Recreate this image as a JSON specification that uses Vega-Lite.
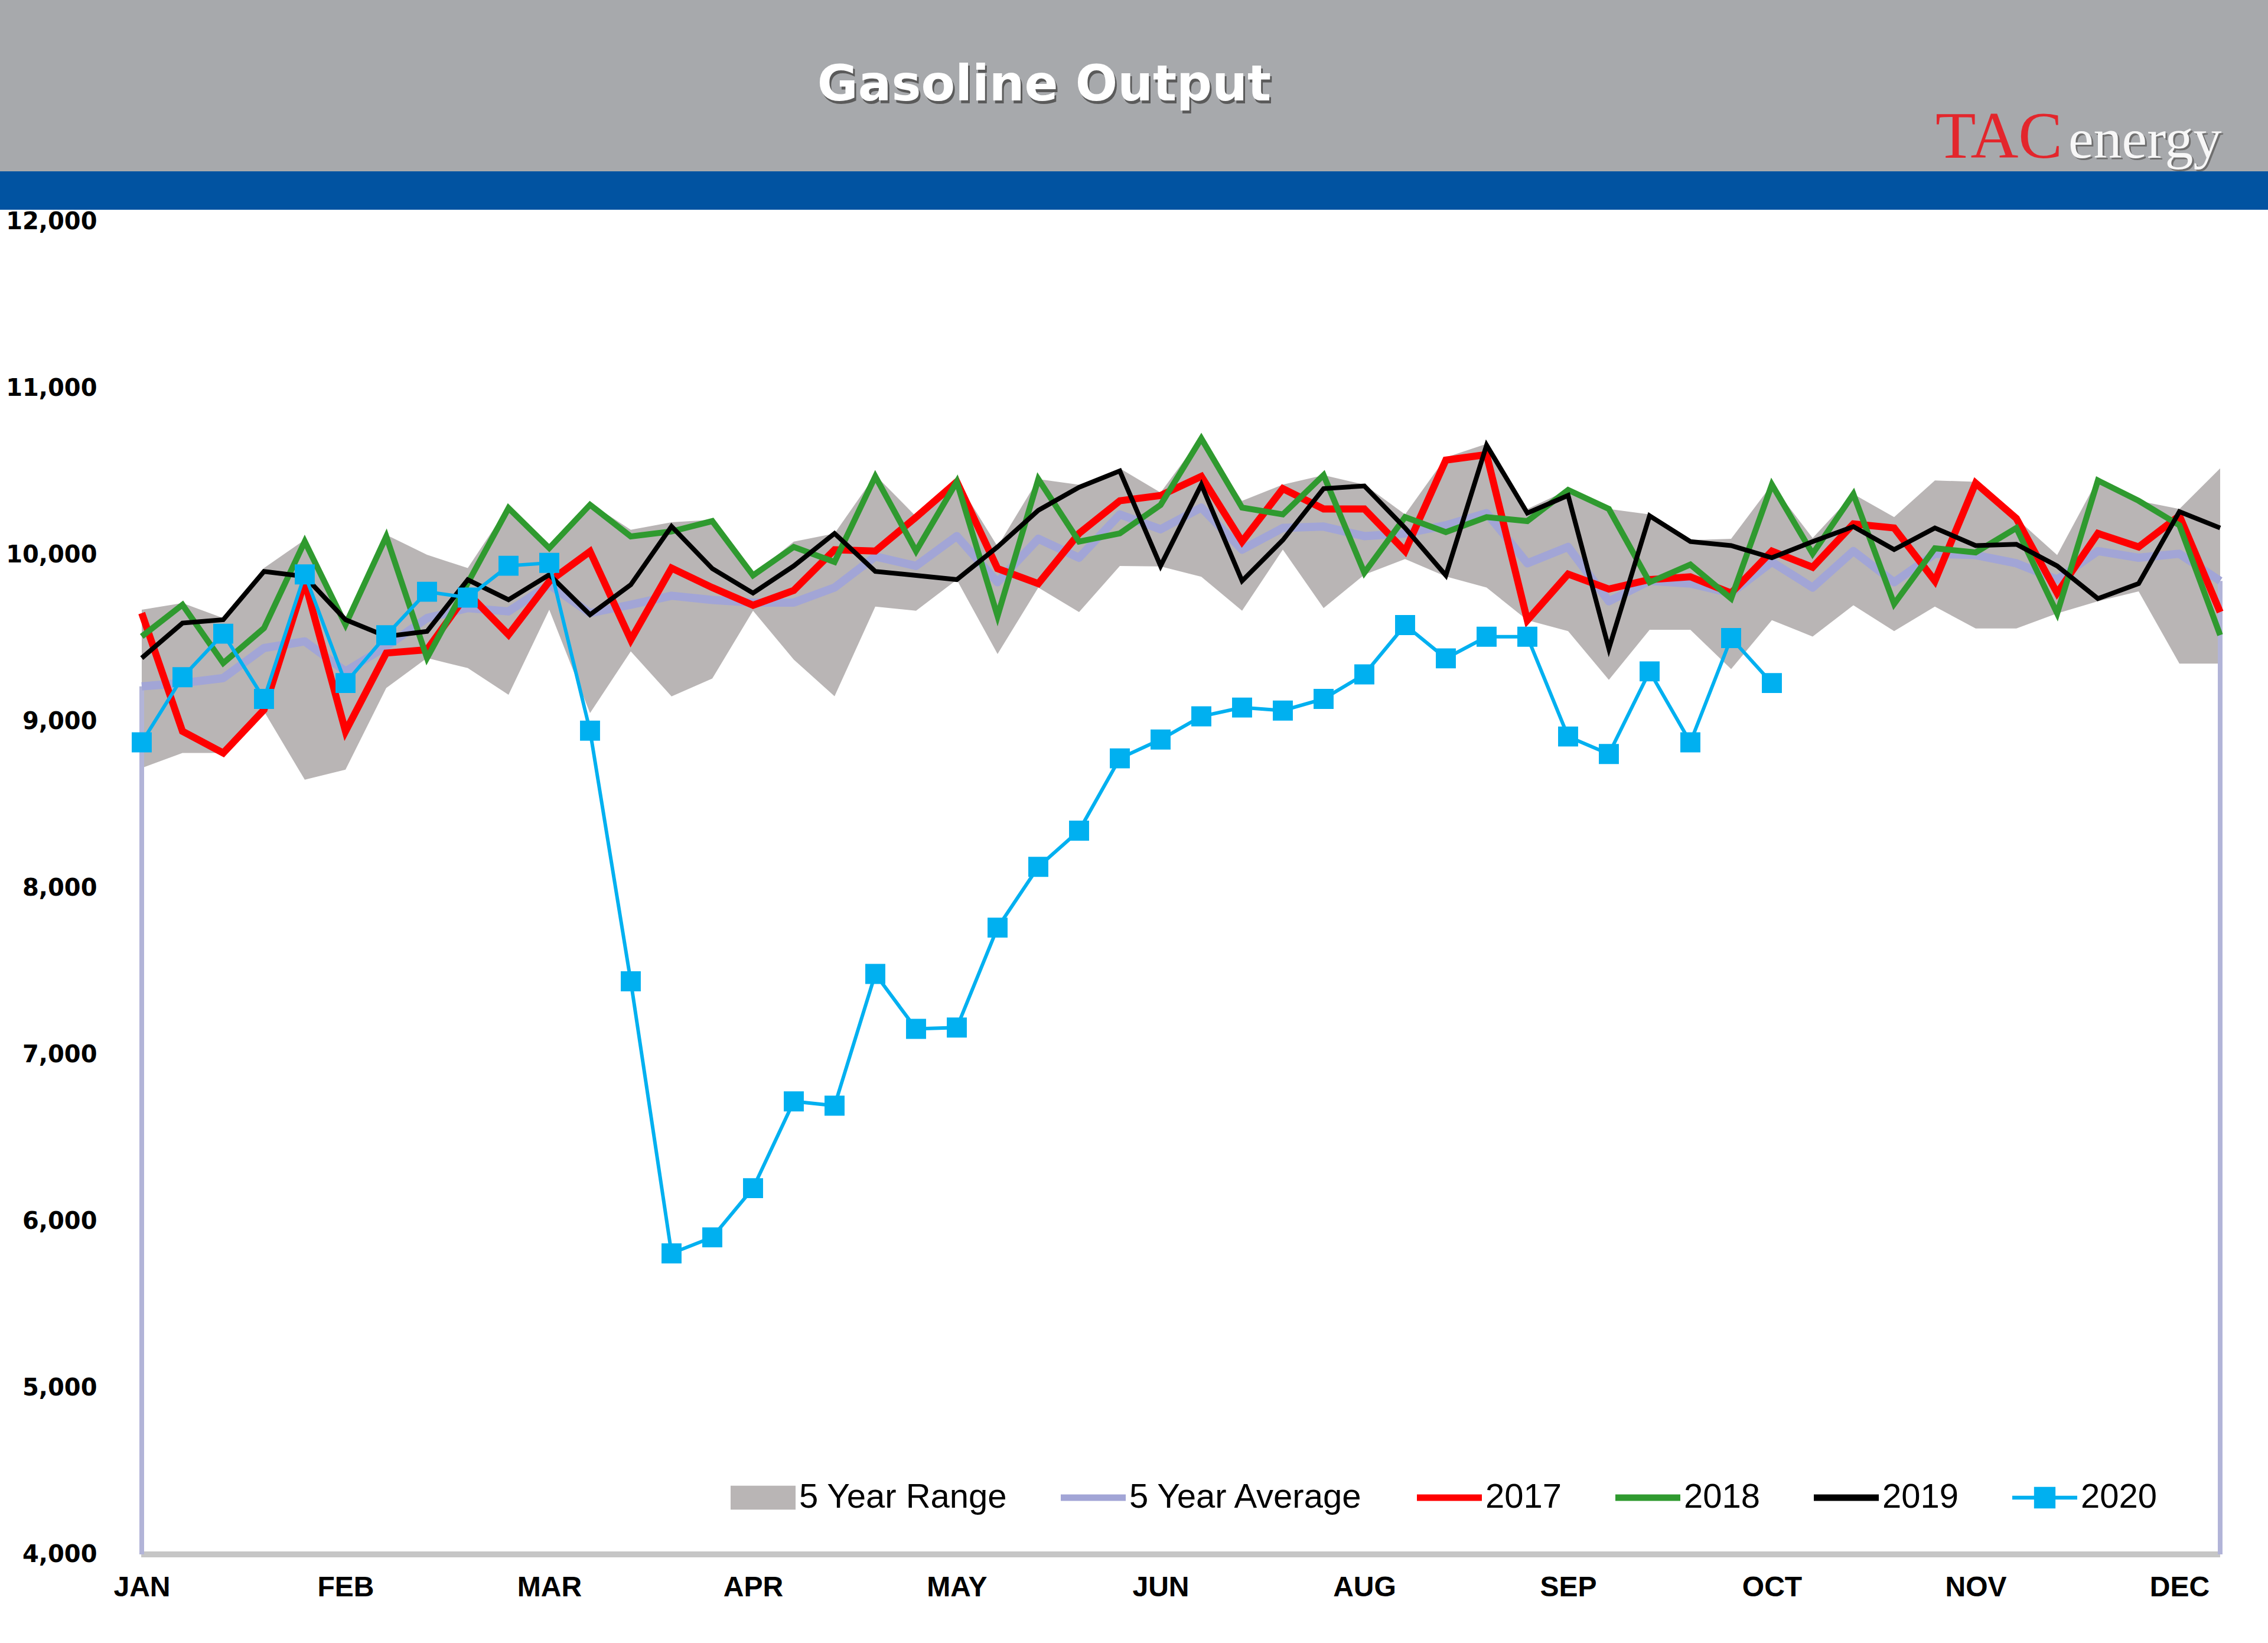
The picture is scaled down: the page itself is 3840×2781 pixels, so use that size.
{
  "$schema": "https://vega.github.io/schema/vega-lite/v6.json",
  "padding": 0,
  "spacing": 0,
  "background": "#FFFFFF",
  "resolve": {"scale": {"color": "independent", "shape": "independent"}, "legend": {"color": "independent", "shape": "independent"}},
  "datasets": {
    "weekly": [
      {"week": 1, "2017": 9650, "2018": 9510, "2019": 9380, "5 Year Average": 9210, "lo": 8720, "hi": 9670, "2020": 8874},
      {"week": 2, "2017": 8940, "2018": 9700, "2019": 9590, "5 Year Average": 9230, "lo": 8810, "hi": 9710, "2020": 9265},
      {"week": 3, "2017": 8810, "2018": 9350, "2019": 9610, "5 Year Average": 9260, "lo": 8810, "hi": 9620, "2020": 9526},
      {"week": 4, "2017": 9070, "2018": 9560, "2019": 9900, "5 Year Average": 9440, "lo": 9060, "hi": 9920, "2020": 9135},
      {"week": 5, "2017": 9840, "2018": 10080, "2019": 9870, "5 Year Average": 9480, "lo": 8650, "hi": 10090, "2020": 9882},
      {"week": 6, "2017": 8940, "2018": 9580, "2019": 9610, "5 Year Average": 9300, "lo": 8710, "hi": 9620, "2020": 9230},
      {"week": 7, "2017": 9410, "2018": 10110, "2019": 9510, "5 Year Average": 9450, "lo": 9200, "hi": 10120, "2020": 9517},
      {"week": 8, "2017": 9430, "2018": 9380, "2019": 9540, "5 Year Average": 9620, "lo": 9380, "hi": 10000, "2020": 9778},
      {"week": 9, "2017": 9770, "2018": 9830, "2019": 9850, "5 Year Average": 9680, "lo": 9320, "hi": 9920, "2020": 9743},
      {"week": 10, "2017": 9520, "2018": 10280, "2019": 9730, "5 Year Average": 9660, "lo": 9160, "hi": 10290, "2020": 9934},
      {"week": 11, "2017": 9840, "2018": 10040, "2019": 9880, "5 Year Average": 9820, "lo": 9670, "hi": 10050, "2020": 9951},
      {"week": 12, "2017": 10020, "2018": 10300, "2019": 9640, "5 Year Average": 9650, "lo": 9050, "hi": 10310, "2020": 8944},
      {"week": 13, "2017": 9490, "2018": 10110, "2019": 9820, "5 Year Average": 9700, "lo": 9420, "hi": 10150, "2020": 7440},
      {"week": 14, "2017": 9920, "2018": 10140, "2019": 10170, "5 Year Average": 9754, "lo": 9150, "hi": 10195, "2020": 5807},
      {"week": 15, "2017": 9803, "2018": 10202, "2019": 9917, "5 Year Average": 9729, "lo": 9257, "hi": 10210, "2020": 5903},
      {"week": 16, "2017": 9697, "2018": 9876, "2019": 9770, "5 Year Average": 9713, "lo": 9664, "hi": 9880, "2020": 6198},
      {"week": 17, "2017": 9786, "2018": 10047, "2019": 9933, "5 Year Average": 9713, "lo": 9371, "hi": 10079, "2020": 6719},
      {"week": 18, "2017": 10030, "2018": 9957, "2019": 10128, "5 Year Average": 9803, "lo": 9151, "hi": 10128, "2020": 6693},
      {"week": 19, "2017": 10022, "2018": 10470, "2019": 9900, "5 Year Average": 9990, "lo": 9689, "hi": 10478, "2020": 7484},
      {"week": 20, "2017": 10226, "2018": 10022, "2019": 9876, "5 Year Average": 9933, "lo": 9664, "hi": 10230, "2020": 7154},
      {"week": 21, "2017": 10438, "2018": 10438, "2019": 9851, "5 Year Average": 10112, "lo": 9850, "hi": 10446, "2020": 7162},
      {"week": 22, "2017": 9917, "2018": 9632, "2019": 10047, "5 Year Average": 9835, "lo": 9404, "hi": 10050, "2020": 7762},
      {"week": 23, "2017": 9827, "2018": 10454, "2019": 10267, "5 Year Average": 10096, "lo": 9803, "hi": 10454, "2020": 8127},
      {"week": 24, "2017": 10128, "2018": 10079, "2019": 10405, "5 Year Average": 9982, "lo": 9656, "hi": 10420, "2020": 8344},
      {"week": 25, "2017": 10324, "2018": 10128, "2019": 10503, "5 Year Average": 10242, "lo": 9933, "hi": 10519, "2020": 8778},
      {"week": 26, "2017": 10356, "2018": 10299, "2019": 9933, "5 Year Average": 10153, "lo": 9930, "hi": 10373, "2020": 8891},
      {"week": 27, "2017": 10470, "2018": 10698, "2019": 10421, "5 Year Average": 10283, "lo": 9868, "hi": 10706, "2020": 9030},
      {"week": 28, "2017": 10079, "2018": 10283, "2019": 9843, "5 Year Average": 10031, "lo": 9664, "hi": 10324, "2020": 9083},
      {"week": 29, "2017": 10397, "2018": 10242, "2019": 10088, "5 Year Average": 10161, "lo": 10031, "hi": 10421, "2020": 9065},
      {"week": 30, "2017": 10275, "2018": 10478, "2019": 10397, "5 Year Average": 10169, "lo": 9680, "hi": 10478, "2020": 9135},
      {"week": 31, "2017": 10275, "2018": 9892, "2019": 10413, "5 Year Average": 10112, "lo": 9880, "hi": 10421, "2020": 9282},
      {"week": 32, "2017": 10022, "2018": 10226, "2019": 10161, "5 Year Average": 10128, "lo": 9974, "hi": 10242, "2020": 9578},
      {"week": 33, "2017": 10568, "2018": 10136, "2019": 9876, "5 Year Average": 10177, "lo": 9870, "hi": 10584, "2020": 9378},
      {"week": 34, "2017": 10601, "2018": 10226, "2019": 10658, "5 Year Average": 10250, "lo": 9803, "hi": 10666, "2020": 9508},
      {"week": 35, "2017": 9607, "2018": 10202, "2019": 10250, "5 Year Average": 9949, "lo": 9607, "hi": 10275, "2020": 9508},
      {"week": 36, "2017": 9884, "2018": 10389, "2019": 10356, "5 Year Average": 10047, "lo": 9542, "hi": 10389, "2020": 8909},
      {"week": 37, "2017": 9794, "2018": 10275, "2019": 9436, "5 Year Average": 9721, "lo": 9249, "hi": 10275, "2020": 8804},
      {"week": 38, "2017": 9851, "2018": 9835, "2019": 10234, "5 Year Average": 9843, "lo": 9550, "hi": 10242, "2020": 9300},
      {"week": 39, "2017": 9868, "2018": 9941, "2019": 10079, "5 Year Average": 9827, "lo": 9550, "hi": 10088, "2020": 8874},
      {"week": 40, "2017": 9770, "2018": 9737, "2019": 10055, "5 Year Average": 9770, "lo": 9314, "hi": 10096, "2020": 9500},
      {"week": 41, "2017": 10022, "2018": 10421, "2019": 9982, "5 Year Average": 9957, "lo": 9607, "hi": 10421, "2020": 9230},
      {"week": 42, "2017": 9925, "2018": 10006, "2019": 10079, "5 Year Average": 9803, "lo": 9509, "hi": 10100},
      {"week": 43, "2017": 10185, "2018": 10364, "2019": 10169, "5 Year Average": 10022, "lo": 9697, "hi": 10364},
      {"week": 44, "2017": 10161, "2018": 9705, "2019": 10031, "5 Year Average": 9835, "lo": 9542, "hi": 10226},
      {"week": 45, "2017": 9843, "2018": 10039, "2019": 10161, "5 Year Average": 10006, "lo": 9689, "hi": 10446},
      {"week": 46, "2017": 10430, "2018": 10014, "2019": 10055, "5 Year Average": 9998, "lo": 9558, "hi": 10438},
      {"week": 47, "2017": 10218, "2018": 10161, "2019": 10063, "5 Year Average": 9949, "lo": 9558, "hi": 10218},
      {"week": 48, "2017": 9770, "2018": 9648, "2019": 9933, "5 Year Average": 9851, "lo": 9648, "hi": 9998},
      {"week": 49, "2017": 10128, "2018": 10446, "2019": 9737, "5 Year Average": 10022, "lo": 9721, "hi": 10454},
      {"week": 50, "2017": 10047, "2018": 10324, "2019": 9827, "5 Year Average": 9982, "lo": 9780, "hi": 10324},
      {"week": 51, "2017": 10234, "2018": 10177, "2019": 10259, "5 Year Average": 10006, "lo": 9347, "hi": 10275},
      {"week": 52, "2017": 9656, "2018": 9518, "2019": 10161, "5 Year Average": 9843, "lo": 9347, "hi": 10519}
    ]
  },
  "vconcat": [
    {
      "width": 3840,
      "height": 290,
      "view": {"fill": "#A7A9AC", "stroke": null},
      "layer": [
        {
          "data": {"values": [{"t": "Gasoline Output"}]},
          "mark": {"type": "text", "font": "DejaVu Sans", "fontWeight": "bold", "fontSize": 84, "color": "#5A5A5A", "align": "center", "baseline": "middle", "dx": -149, "dy": 5},
          "encoding": {"text": {"field": "t"}}
        },
        {
          "data": {"values": [{"t": "Gasoline Output"}]},
          "mark": {"type": "text", "font": "DejaVu Sans", "fontWeight": "bold", "fontSize": 84, "color": "#FFFFFF", "align": "center", "baseline": "middle", "dx": -152, "dy": 0},
          "encoding": {"text": {"field": "t"}}
        },
        {
          "data": {"values": [{"t": "TAC"}]},
          "mark": {"type": "text", "font": "Liberation Serif", "fontSize": 112, "color": "#E3262C", "align": "left", "baseline": "alphabetic", "dx": 1357, "dy": 122},
          "encoding": {"text": {"field": "t"}}
        },
        {
          "data": {"values": [{"t": "energy"}]},
          "mark": {"type": "text", "font": "Liberation Serif", "fontSize": 96, "color": "#6F6F6F", "align": "left", "baseline": "alphabetic", "dx": 1585, "dy": 125},
          "encoding": {"text": {"field": "t"}}
        },
        {
          "data": {"values": [{"t": "energy"}]},
          "mark": {"type": "text", "font": "Liberation Serif", "fontSize": 96, "color": "#F7F7F7", "align": "left", "baseline": "alphabetic", "dx": 1582, "dy": 122},
          "encoding": {"text": {"field": "t"}}
        }
      ]
    },
    {
      "width": 3840,
      "height": 65,
      "view": {"fill": "#0153A1", "stroke": null},
      "data": {"values": [{"t": ""}]},
      "mark": {"type": "text"},
      "encoding": {"text": {"field": "t"}}
    },
    {
      "width": 3840,
      "height": 2256,
      "data": {"name": "weekly"},
      "layer": [
        {
          "mark": {"type": "area", "opacity": 1, "fillOpacity": 1},
          "encoding": {
            "x": {
              "field": "week", "type": "quantitative", "title": null,
              "scale": {"domain": [-2.478, 53.174], "nice": false, "zero": false},
              "axis": {
                "values": [1, 6, 11, 16, 21, 26, 31, 36, 41, 46, 51],
                "labelExpr": "['JAN','FEB','MAR','APR','MAY','JUN','AUG','SEP','OCT','NOV','DEC'][(datum.value - 1) / 5]",
                "labelFont": "Liberation Sans", "labelFontWeight": "bold", "labelFontSize": 48, "labelColor": "#000000",
                "labelFlush": false, "labelOverlap": false, "labelBound": false, "labelAngle": 0,
                "ticks": false, "grid": false, "domain": false,
                "labelPadding": 32, "title": null
              }
            },
            "y": {
              "field": "lo", "type": "quantitative", "title": null,
              "scale": {"domain": [4000, 12000], "nice": false, "zero": false},
              "axis": {
                "values": [4000, 5000, 6000, 7000, 8000, 9000, 10000, 11000, 12000],
                "format": ",.0f", "labelFont": "DejaVu Sans", "labelFontWeight": "bold", "labelFontSize": 40, "labelColor": "#000000",
                "labelFlush": false, "labelOverlap": false, "ticks": false, "grid": false, "domain": false,
                "offset": -240, "labelPadding": 76, "title": null
              }
            },
            "y2": {"field": "hi"},
            "color": {
              "datum": "5 Year Range", "type": "nominal", "title": null,
              "scale": {
                "domain": ["5 Year Range", "5 Year Average", "2017", "2018", "2019", "2020"],
                "range": ["#B9B5B5", "#A2A5D6", "#FF0000", "#2F9A2F", "#000000", "#00B0F0"]
              }
            }
          }
        },
        {
          "mark": {"type": "rule", "color": "#C6C6C6", "strokeWidth": 10},
          "encoding": {
            "x": {"datum": 1, "type": "quantitative"},
            "x2": {"datum": 52},
            "y": {"datum": 4000, "type": "quantitative"}
          }
        },
        {
          "transform": [{"filter": "datum.week === 1 || datum.week === 52"}],
          "mark": {"type": "rule", "color": "#B2B4D8", "strokeWidth": 8},
          "encoding": {
            "x": {"field": "week", "type": "quantitative", "title": null},
            "y": {"field": "5 Year Average", "type": "quantitative", "title": null},
            "y2": {"datum": 4000}
          }
        },
        {
          "transform": [{"fold": ["5 Year Average"], "as": ["series", "value"]}],
          "mark": {"type": "line", "strokeWidth": 14, "strokeJoin": "round"},
          "encoding": {
            "x": {"field": "week", "type": "quantitative", "title": null},
            "y": {"field": "value", "type": "quantitative", "title": null},
            "color": {"field": "series", "type": "nominal", "title": null}
          }
        },
        {
          "transform": [{"fold": ["2017"], "as": ["series", "value"]}],
          "mark": {"type": "line", "strokeWidth": 12, "strokeJoin": "miter"},
          "encoding": {
            "x": {"field": "week", "type": "quantitative", "title": null},
            "y": {"field": "value", "type": "quantitative", "title": null},
            "color": {"field": "series", "type": "nominal", "title": null}
          }
        },
        {
          "transform": [{"fold": ["2018"], "as": ["series", "value"]}],
          "mark": {"type": "line", "strokeWidth": 10, "strokeJoin": "miter"},
          "encoding": {
            "x": {"field": "week", "type": "quantitative", "title": null},
            "y": {"field": "value", "type": "quantitative", "title": null},
            "color": {"field": "series", "type": "nominal", "title": null}
          }
        },
        {
          "transform": [{"fold": ["2019"], "as": ["series", "value"]}],
          "mark": {"type": "line", "strokeWidth": 8, "strokeJoin": "miter"},
          "encoding": {
            "x": {"field": "week", "type": "quantitative", "title": null},
            "y": {"field": "value", "type": "quantitative", "title": null},
            "color": {"field": "series", "type": "nominal", "title": null}
          }
        },
        {
          "transform": [{"fold": ["2020"], "as": ["series", "value"]}, {"filter": "isValid(datum.value)"}],
          "mark": {"type": "line", "strokeWidth": 6, "point": {"shape": "square", "size": 1150, "filled": true, "opacity": 1}},
          "encoding": {
            "x": {"field": "week", "type": "quantitative", "title": null},
            "y": {"field": "value", "type": "quantitative", "title": null},
            "color": {"field": "series", "type": "nominal", "title": null}
          }
        },
        {
          "transform": [{"fold": ["2020"], "as": ["series", "value"]}, {"filter": "isValid(datum.value)"}],
          "mark": {"type": "point", "filled": true, "opacity": 0, "size": 10},
          "encoding": {
            "x": {"field": "week", "type": "quantitative", "title": null},
            "y": {"field": "value", "type": "quantitative", "title": null},
            "color": {
              "field": "series", "type": "nominal", "title": null,
              "legend": {
                "title": null, "orient": "none", "legendX": 1237, "legendY": 2105, "direction": "horizontal", "columns": 6,
                "padding": 0, "labelFont": "Liberation Sans", "labelFontSize": 58, "labelColor": "#000000", "labelLimit": 0,
                "symbolSize": 12100, "symbolStrokeWidth": 0, "symbolOpacity": 1, "columnPadding": 90, "labelOffset": 6
              }
            },
            "shape": {
              "field": "series", "type": "nominal", "title": null,
              "scale": {
                "domain": ["5 Year Range", "5 Year Average", "2017", "2018", "2019", "2020"],
                "range": ["M-1,-0.37H1V0.37H-1Z", "M-1,-0.1H1V0.1H-1Z", "M-1,-0.1H1V0.1H-1Z", "M-1,-0.1H1V0.1H-1Z", "M-1,-0.1H1V0.1H-1Z", "M-1,-0.06H-0.33V-0.33H0.33V-0.06H1V0.06H0.33V0.33H-0.33V0.06H-1Z"]
              },
              "legend": {
                "title": null, "orient": "none", "legendX": 1237, "legendY": 2105, "direction": "horizontal", "columns": 6,
                "padding": 0, "labelFont": "Liberation Sans", "labelFontSize": 58, "labelColor": "#000000", "labelLimit": 0,
                "symbolSize": 12100, "symbolStrokeWidth": 0, "symbolOpacity": 1, "columnPadding": 90, "labelOffset": 6
              }
            }
          }
        }
      ]
    }
  ],
  "config": {
    "view": {"stroke": null},
    "concat": {"spacing": 0},
    "axis": {"grid": false, "ticks": false}
  }
}
